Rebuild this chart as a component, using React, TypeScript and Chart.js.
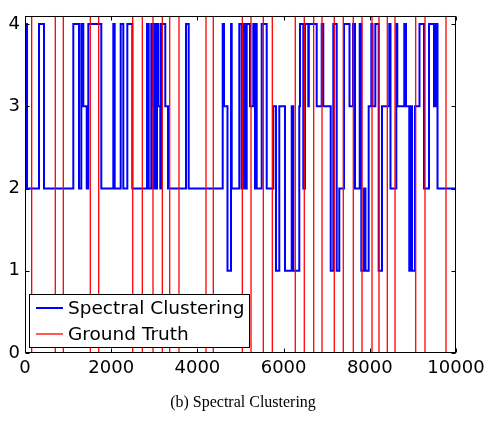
import { useEffect, useRef } from "react";
import { Chart, registerables } from "chart.js";

Chart.register(...registerables);

const xTicks = [0, 2000, 4000, 6000, 8000, 10000];
const yTicks = [0, 1, 2, 3, 4];
const xMax = 10000;
const yMax = 4.1;

// Spectral clustering label: value stepY[i] holds from stepX[i] until stepX[i+1]
const stepX = [
  0, 46, 325, 441, 1121, 1253, 1306, 1353, 1432, 1469, 1770, 2049, 2081, 2220, 2281, 2374,
  2490, 2831, 2870, 2930, 2958, 2981, 3005, 3040, 3063, 3097, 3139, 3155, 3255, 3318, 3735,
  3798, 4587, 4617, 4698, 4780, 4796, 4972, 5028, 5065, 5104, 5144, 5220, 5297, 5336, 5360,
  5376, 5492, 5608, 5761, 5824, 5900, 6032, 6188, 6225, 6364, 6381, 6457, 6497, 6573, 6585,
  6768, 6884, 6921, 7093, 7153, 7232, 7292, 7401, 7529, 7610, 7657, 7766, 7803, 7865, 7900,
  7974, 8035, 8063, 8128, 8206, 8283, 8452, 8480, 8615, 8638, 8800, 8840, 8916, 8956, 8979,
  9049, 9153, 9258, 9374, 9490, 9524, 9571, 10000,
];
const stepY = [
  4, 2, 4, 2, 4, 2, 4, 3, 2, 4, 2, 4, 2, 4, 2, 4,
  2, 4, 2, 4, 3, 2, 4, 2, 4, 3, 2, 4, 3, 2, 4,
  2, 4, 3, 1, 4, 2, 4, 2, 4, 2, 4, 3, 4, 2, 4,
  2, 4, 2, 3, 1, 3, 1, 3, 1, 3, 4, 2, 4, 3, 4,
  3, 4, 3, 1, 4, 1, 2, 4, 3, 4, 2, 4, 1, 2, 1,
  3, 4, 3, 4, 1, 3, 4, 2, 4, 3, 4, 3, 1, 3, 1,
  3, 4, 2, 4, 3, 4, 2, 2,
];

// Ground truth change points
const groundTruth = [
  155, 703, 889, 1515, 1710, 2499, 2722, 2970, 3186, 3357, 3573, 4200, 4369, 5042, 5244,
  5529, 5738, 6271, 6480, 6698, 6891, 7176, 7385, 7617, 7819, 8051, 8213, 8406, 8585, 9065,
  9281, 9768, 10000,
];

const seriesLabels = ["Spectral Clustering", "Ground Truth"];
const seriesColors = ["#0000ff", "#ff0000"];
const caption = "(b) Spectral Clustering";

export default function App() {
  const ref = useRef<HTMLCanvasElement>(null);

  useEffect(() => {
    if (!ref.current) return;
    const stepData = stepX.map((x, i) => ({ x, y: stepY[i] }));
    const gtData: { x: number; y: number | null }[] = [];
    groundTruth.forEach((g) => {
      gtData.push({ x: g, y: 0 }, { x: g, y: yMax }, { x: g, y: null });
    });

    const framePlugin = {
      id: "frame",
      afterDraw(chart: any) {
        const ctx = chart.ctx as CanvasRenderingContext2D;
        const { left, right, top, bottom } = chart.chartArea;
        const xs = chart.scales.x;
        const ys = chart.scales.y;
        const L = Math.round(left) + 0.5;
        const R = Math.round(right) - 0.5;
        const T = Math.round(top) + 0.5;
        const B = Math.round(bottom) - 0.5;
        ctx.save();
        ctx.strokeStyle = "#000";
        ctx.lineWidth = 1;
        ctx.strokeRect(L, T, R - L, B - T);
        const tl = 4;
        ctx.beginPath();
        xTicks.forEach((v) => {
          const px = Math.round(xs.getPixelForValue(v)) + 0.5;
          ctx.moveTo(px, B);
          ctx.lineTo(px, B - tl);
          ctx.moveTo(px, T);
          ctx.lineTo(px, T + tl);
        });
        yTicks.forEach((v) => {
          const py = Math.round(ys.getPixelForValue(v)) + 0.5;
          ctx.moveTo(L, py);
          ctx.lineTo(L + tl, py);
          ctx.moveTo(R, py);
          ctx.lineTo(R - tl, py);
        });
        ctx.stroke();

        // legend
        const lx = 29.5, ly = 294.5, lw = 220, lh = 53;
        ctx.fillStyle = "#fff";
        ctx.fillRect(lx, ly, lw, lh);
        ctx.strokeStyle = "#000";
        ctx.lineWidth = 1;
        ctx.strokeRect(lx, ly, lw, lh);
        const rows = [308, 334];
        const widths = [2, 1.3];
        ctx.font = "18.5px 'DejaVu Sans'";
        ctx.textBaseline = "middle";
        ctx.textAlign = "left";
        rows.forEach((ry, i) => {
          ctx.beginPath();
          ctx.strokeStyle = seriesColors[i];
          ctx.lineWidth = widths[i];
          ctx.moveTo(36, ry);
          ctx.lineTo(63, ry);
          ctx.stroke();
          ctx.fillStyle = "#000";
          ctx.fillText(seriesLabels[i], 68, ry + 1);
        });

        // caption
        ctx.font = "16px 'Liberation Serif'";
        ctx.textAlign = "center";
        ctx.fillStyle = "#000";
        ctx.fillText(caption, 243, 403);
        ctx.restore();
      },
    };

    const chart = new Chart(ref.current, {
      type: "line",
      data: {
        datasets: [
          {
            label: seriesLabels[0],
            data: stepData,
            borderColor: seriesColors[0],
            borderWidth: 2,
            stepped: "before",
            pointRadius: 0,
            fill: false,
            order: 2,
          },
          {
            label: seriesLabels[1],
            data: gtData,
            borderColor: seriesColors[1],
            borderWidth: 1.3,
            pointRadius: 0,
            fill: false,
            spanGaps: false,
            order: 1,
          },
        ],
      },
      options: {
        animation: false,
        responsive: false,
        maintainAspectRatio: false,
        devicePixelRatio: 1,
        layout: { padding: { left: 0, top: 13, right: 34, bottom: 38 } },
        plugins: { legend: { display: false }, tooltip: { enabled: false }, title: { display: false } },
        scales: {
          x: {
            type: "linear",
            min: 0,
            max: xMax,
            afterBuildTicks: (s: any) => {
              s.ticks = xTicks.map((v) => ({ value: v }));
            },
            afterFit: (s: any) => {
              s.height = 30;
            },
            grid: { display: false, drawTicks: false },
            border: { display: false },
            ticks: {
              color: "#000",
              font: { family: "'DejaVu Sans'", size: 18 },
              padding: 5,
              maxRotation: 0,
              autoSkip: false,
              callback: (v: any) => String(v),
            },
          },
          y: {
            type: "linear",
            min: 0,
            max: yMax,
            afterBuildTicks: (s: any) => {
              s.ticks = yTicks.map((v) => ({ value: v }));
            },
            afterFit: (s: any) => {
              s.width = 25;
            },
            grid: { display: false, drawTicks: false },
            border: { display: false },
            ticks: {
              color: "#000",
              font: { family: "'DejaVu Sans'", size: 18 },
              padding: 5,
              autoSkip: false,
              callback: (v: any) => String(v),
            },
          },
        },
      },
      plugins: [framePlugin],
    });
    return () => chart.destroy();
  }, []);

  return (
    <div style={{ position: "fixed", left: 0, top: 0, width: 490, height: 421, background: "#fff" }}>
      <canvas ref={ref} width={490} height={421} style={{ display: "block", width: 490, height: 421 }} />
    </div>
  );
}
